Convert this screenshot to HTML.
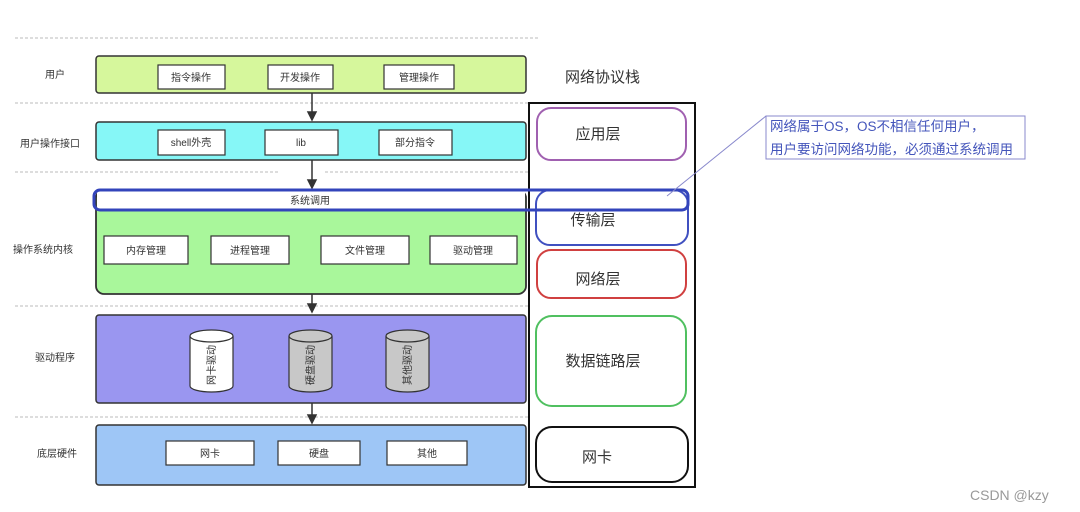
<!DOCTYPE html>
<html><head><meta charset="utf-8"><style>
body{margin:0;background:#fff;}
svg{display:block;font-family:"Liberation Sans","Noto Sans CJK SC",sans-serif;}
</style></head><body>
<svg width="1080" height="512" viewBox="0 0 1080 512">
<g stroke="#bbb" stroke-dasharray="3,2" stroke-width="1">
<line x1="15" y1="38" x2="540" y2="38"/>
<line x1="15" y1="103" x2="530" y2="103"/>
<line x1="15" y1="172" x2="280" y2="172"/><line x1="325" y1="172" x2="530" y2="172"/>
<line x1="15" y1="306" x2="530" y2="306"/>
<line x1="15" y1="417" x2="530" y2="417"/>
</g>
<g font-size="10" fill="#333" text-anchor="middle">
<text x="55" y="78">用户</text>
<text x="50" y="147">用户操作接口</text>
<text x="43" y="253">操作系统内核</text>
<text x="55" y="361">驱动程序</text>
<text x="57" y="457">底层硬件</text>
</g>
<rect x="96" y="56" width="430" height="37" rx="3" fill="#d6f79c" stroke="#333" stroke-width="1.5"/>
<g fill="#fff" stroke="#333" stroke-width="1.2">
<rect x="158" y="65" width="67" height="24"/><rect x="268" y="65" width="65" height="24"/><rect x="384" y="65" width="70" height="24"/>
<rect x="96" y="122" width="430" height="38" rx="3" fill="#86f7f7" stroke-width="1.5"/>
<rect x="158" y="130" width="67" height="25"/><rect x="265" y="130" width="73" height="25"/><rect x="379" y="130" width="73" height="25"/>
<rect x="96" y="190" width="430" height="104" rx="8" fill="#a9f79b" stroke-width="1.8"/>
<rect x="97" y="191" width="428" height="19" fill="#fff" stroke="none"/>
<rect x="104" y="236" width="84" height="28"/><rect x="211" y="236" width="78" height="28"/><rect x="321" y="236" width="88" height="28"/><rect x="430" y="236" width="87" height="28"/>
<rect x="96" y="315" width="430" height="88" rx="3" fill="#9a96f0" stroke-width="1.5"/>
<rect x="96" y="425" width="430" height="60" rx="3" fill="#9ec6f6" stroke-width="1.5"/>
<rect x="166" y="441" width="88" height="24"/><rect x="278" y="441" width="82" height="24"/><rect x="387" y="441" width="80" height="24"/>
</g>
<g font-size="10" fill="#333" text-anchor="middle">
<text x="191" y="81">指令操作</text><text x="300" y="81">开发操作</text><text x="419" y="81">管理操作</text>
<text x="191" y="146">shell外壳</text><text x="301" y="146">lib</text><text x="415" y="146">部分指令</text>
<text x="310" y="204">系统调用</text>
<text x="146" y="254">内存管理</text><text x="250" y="254">进程管理</text><text x="365" y="254">文件管理</text><text x="473" y="254">驱动管理</text>
<text x="210" y="457">网卡</text><text x="319" y="457">硬盘</text><text x="427" y="457">其他</text>
</g>
<g stroke="#333" stroke-width="1.2">
<path d="M190 336 v50 a21.5 6 0 0 0 43 0 v-50" fill="#fff"/><ellipse cx="211.5" cy="336" rx="21.5" ry="6" fill="#fff"/>
<path d="M289 336 v50 a21.5 6 0 0 0 43 0 v-50" fill="#c8c8c8"/><ellipse cx="310.5" cy="336" rx="21.5" ry="6" fill="#c8c8c8"/>
<path d="M386 336 v50 a21.5 6 0 0 0 43 0 v-50" fill="#c8c8c8"/><ellipse cx="407.5" cy="336" rx="21.5" ry="6" fill="#c8c8c8"/>
</g>
<g font-size="10" fill="#333" text-anchor="middle">
<text transform="translate(215,365) rotate(-90)">网卡驱动</text>
<text transform="translate(314,365) rotate(-90)">硬盘驱动</text>
<text transform="translate(411,365) rotate(-90)">其他驱动</text>
</g>
<g stroke="#333" stroke-width="1.5" fill="#333">
<line x1="312" y1="93" x2="312" y2="113"/><path d="M308 112 L316 112 L312 120Z"/>
<line x1="312" y1="160" x2="312" y2="181"/><path d="M308 180 L316 180 L312 188Z"/>
<line x1="312" y1="294" x2="312" y2="305"/><path d="M308 304 L316 304 L312 312Z"/>
<line x1="312" y1="403" x2="312" y2="416"/><path d="M308 415 L316 415 L312 423Z"/>
</g>
<text x="565" y="82" font-size="15" fill="#333">网络协议栈</text>
<rect x="529" y="103" width="166" height="384" fill="none" stroke="#111" stroke-width="2"/>
<rect x="537" y="108" width="149" height="52" rx="14" fill="none" stroke="#a060b0" stroke-width="2"/>
<rect x="536" y="190" width="152" height="55" rx="14" fill="none" stroke="#4050c0" stroke-width="2"/>
<rect x="537" y="250" width="149" height="48" rx="14" fill="none" stroke="#d04040" stroke-width="2"/>
<rect x="536" y="316" width="150" height="90" rx="16" fill="none" stroke="#50c060" stroke-width="2"/>
<rect x="536" y="427" width="152" height="55" rx="16" fill="none" stroke="#111" stroke-width="2"/>
<g font-size="15" fill="#333" text-anchor="middle">
<text x="598" y="139">应用层</text><text x="593" y="225">传输层</text><text x="598" y="284">网络层</text><text x="603" y="366">数据链路层</text><text x="597" y="462">网卡</text>
</g>
<rect x="94" y="190" width="594" height="20" rx="6" fill="none" stroke="#3344bb" stroke-width="3"/>
<line x1="766" y1="116" x2="667" y2="196" stroke="#8888cc" stroke-width="1"/>
<rect x="766" y="116" width="259" height="43" fill="none" stroke="#8888cc" stroke-width="1"/>
<g font-size="13.5" fill="#4455bb">
<text x="770" y="131">网络属于OS，OS不相信任何用户，</text>
<text x="770" y="154">用户要访问网络功能，必须通过系统调用</text>
</g>
<text x="970" y="500" font-size="14" fill="#999">CSDN @kzy</text>
</svg>
</body></html>
